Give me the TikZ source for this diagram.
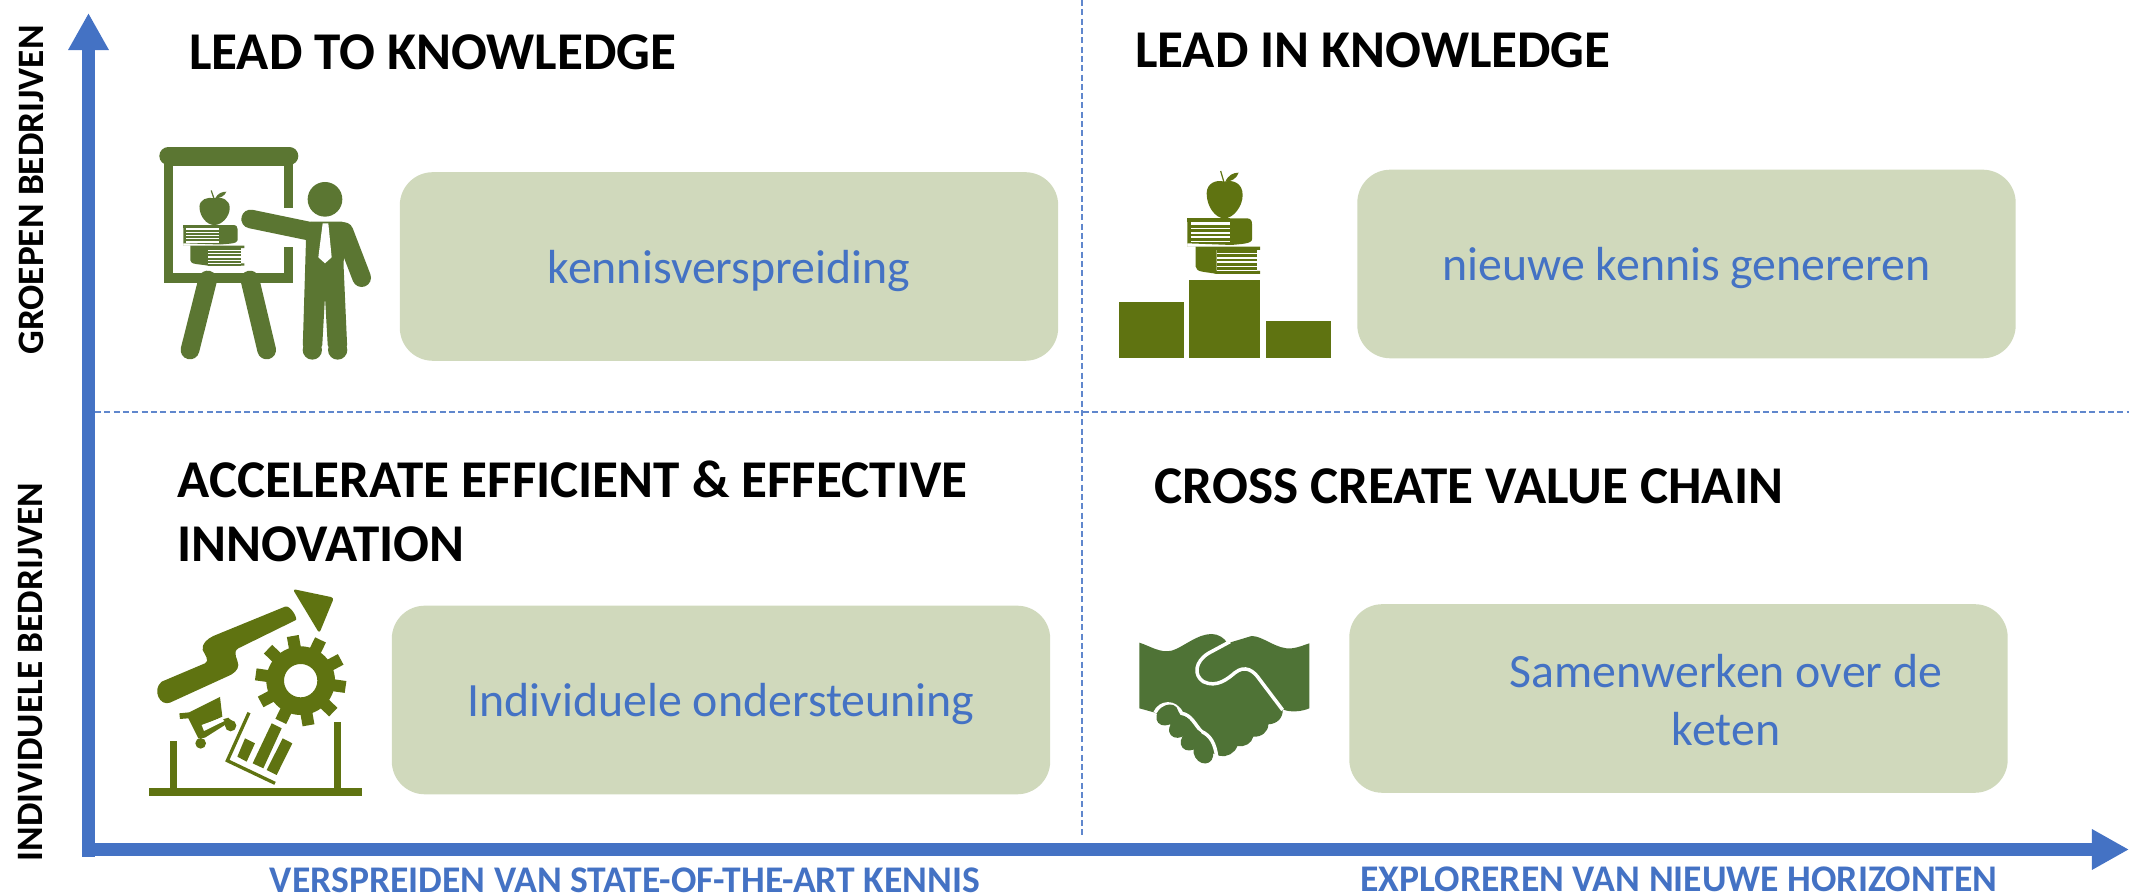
\documentclass[tikz,border=0pt]{standalone}
\usepackage{fontspec}
\setmainfont{Carlito}
\usetikzlibrary{arrows.meta}
\definecolor{axisblue}{HTML}{4472C4}
\definecolor{boxgreen}{HTML}{D0D9BC}
\definecolor{iconolive}{HTML}{5F7311}
\definecolor{iconmoss}{HTML}{5B7632}
\definecolor{iconhand}{HTML}{4F7336}
\def\applebooks#1{
	\fill[#1] (373,95) .. controls (400,88) and (428,100) .. (428,135) .. controls (428,170) and (400,205) .. (373,205) .. controls (346,205) and (320,170) .. (320,130) .. controls (320,100) and (348,88) .. (373,95) -- cycle;
	\draw[#1, line width=0.012cm] (362,63) -- (372,97);
	\fill[#1] (376,95) .. controls (385,75) and (400,68) .. (416,68) .. controls (410,85) and (395,95) .. (376,95) -- cycle;
	\fill[#1] (262,205) -- (440,205) .. controls (452,205) and (456,212) .. (456,222) -- (456,268) .. controls (456,282) and (420,282) .. (395,285) -- (262,280) -- (262,290) -- (480,290) -- (480,300) -- (350,300) -- (350,372) -- (480,372) -- (480,363) -- (350,363) -- (350,372) .. controls (320,365) and (287,368) .. (287,350) -- (287,290) -- (262,290) -- (262,280) -- (262,205) -- cycle;
	\fill[#1] (262,205) rectangle (390,217);
	\fill[#1] (270,217) rectangle (392,280);
	\fill[white] (272,217) rectangle (390,224);
	\foreach \yy in {233,246,259,272} \fill[white] (272,\yy) rectangle (390,\yy+5);
	\fill[#1] (350,300) rectangle (470,372);
	\foreach \yy in {308,321,334,347,359} \fill[white] (352,\yy) rectangle (470,\yy+5);
}
\tikzset{
	quadbox/.style={fill=boxgreen, rounded corners=0.33cm, minimum width=6.58cm, minimum height=1.885cm, inner sep=0pt},
	quadtext/.style={text=axisblue, font=\fontsize{13.6}{16.3}\selectfont, align=center},
	quadtitle/.style={anchor=west, text=black, font=\fontsize{15.1}{18.2}\bfseries\selectfont, align=left, inner sep=0pt},
	axisx/.style={text=axisblue, font=\fontsize{10.7}{12}\bfseries\selectfont, inner sep=0pt},
	axisy/.style={text=black, rotate=90, font=\fontsize{10.6}{12}\bfseries\selectfont, inner sep=0pt},
	axisline/.style={axisblue, line width=0.13cm, -{Triangle[length=0.37cm, width=0.38cm]}},
	gridline/.style={axisblue!85, line width=0.4pt, dash pattern=on 1.7pt off 0.95pt}
}
\begin{document}
\begin{tikzpicture}[x=0.01cm, y=-0.01cm]
	%%%%% START %%%%%
	\useasboundingbox (0, 0) rectangle (2129, 895);
	
	\coordinate (ybottom) at (88.5, 857);
	\coordinate (ytop) at (88.5, 13);
	\coordinate (xleft) at (82, 849.5);
	\coordinate (xright) at (2129, 849.5);
	\coordinate (midleft) at (95, 412);
	\coordinate (midright) at (2129, 412);
	\coordinate (midtop) at (1082, 0);
	\coordinate (midbottom) at (1082, 837);
	
	\draw[gridline] (midleft) -- (midright);
	\draw[gridline] (midtop) -- (midbottom);
	\draw[axisline] (ybottom) -- (ytop);
	\draw[axisline] (xleft) -- (xright);
	
	\node[quadbox] (spreadbox) at (729, 266.5) {};
	\node[quadbox] (newbox) at (1686.5, 264) {};
	\node[quadbox] (ownbox) at (721, 700) {};
	\node[quadbox] (chainbox) at (1678.5, 698.5) {};
	
	\node[quadtext] (spreadtext) at (729, 271) {kennisverspreiding};
	\node[quadtext] (newtext) at (1686.5, 268) {nieuwe kennis genereren};
	\node[quadtext] (owntext) at (721, 704) {Individuele ondersteuning};
	\node[quadtext] (chaintext) at (1726, 700) {Samenwerken over de\\keten};
	
	\node[quadtitle] (leadto) at (188.5, 52) {LEAD TO KNOWLEDGE};
	\node[quadtitle] (leadin) at (1134.5, 50) {LEAD IN KNOWLEDGE};
	\node[quadtitle] (accel) at (177, 511) {ACCELERATE EFFICIENT \& EFFECTIVE\\INNOVATION};
	\node[quadtitle] (cross) at (1154, 486) {CROSS CREATE VALUE CHAIN};
	
	\node[axisx] (xlabelleft) at (625, 880) {VERSPREIDEN VAN STATE-OF-THE-ART KENNIS};
	\node[axisx] (xlabelright) at (1679, 879) {EXPLOREREN VAN NIEUWE HORIZONTEN};
	\node[axisy] (ylabeltop) at (31, 190) {GROEPEN BEDRIJVEN};
	\node[axisy] (ylabelbottom) at (31, 672) {INDIVIDUELE BEDRIJVEN};
	
	% teacher at the board
	\begin{scope}[shift={(130, 120)}, scale=1/3]
		\fill[iconmoss] (103, 110) rectangle (490, 488);
		\fill[white] (130, 138) rectangle (463, 458);
		\fill[white] (460, 265) rectangle (495, 380);
		\draw[iconmoss, line width=0.18cm, line cap=round] (115, 108) -- (478, 108);
		\draw[iconmoss, line width=0.187cm, line cap=round] (233, 480) -- (180, 690);
		\draw[iconmoss, line width=0.187cm, line cap=round] (360, 480) -- (410, 690);
		\begin{scope}[shift={(253, 275)}, xscale=0.84, yscale=0.73, shift={(-373, -150)}]
			\applebooks{iconmoss}
		\end{scope}
		\fill[iconmoss] (585, 238) circle (52);
		\draw[iconmoss, line width=0.187cm, line cap=round] (362, 297) -- (555, 337);
		\fill[iconmoss, rounded corners=0.05cm] (528, 305) -- (650, 305) -- (665, 330) -- (640, 420) -- (652, 690) -- (594, 690) -- (585, 530) -- (576, 690) -- (518, 690) -- (528, 360) -- cycle;
		\draw[iconmoss, line width=0.187cm, line cap=round] (642, 335) -- (695, 473);
		\fill[iconmoss] (547, 690) circle (29);
		\fill[iconmoss] (623, 690) circle (29);
		\fill[white] (578, 310) -- (595, 310) -- (605, 412) -- (585, 430) -- (565, 412) -- cycle;
	\end{scope}
	
	% podium with apple and books
	\begin{scope}[shift={(1100, 150)}, scale=1/3]
		\fill[iconolive] (57, 457) rectangle (253, 624);
		\fill[iconolive] (268, 391) rectangle (481, 624);
		\fill[iconolive] (497, 514) rectangle (693, 624);
		\applebooks{iconolive}
	\end{scope}
	
	% arrow, gear, cart and chart
	\begin{scope}[shift={(130, 575)}, scale=1/3]
		\fill[iconolive] (57, 640) rectangle (695, 662);
		\fill[iconolive] (121, 498) rectangle (141, 640);
		\fill[iconolive] (611, 442) rectangle (633, 640);
		\fill[iconolive] (95, 320) -- (225, 265) .. controls (240, 258) and (225, 240) .. (218, 225) .. controls (215, 205) and (232, 192) .. (250, 183) -- (465, 95) .. controls (480, 90) and (502, 125) .. (498, 135) -- (325, 220) .. controls (305, 232) and (325, 255) .. (325, 270) .. controls (325, 285) and (310, 297) .. (295, 303) -- (120, 383) .. controls (90, 395) and (65, 345) .. (95, 320) -- cycle;
		\fill[iconolive, rounded corners=0.03cm] (488, 42) -- (612, 68) -- (568, 175) -- cycle;
		\fill[iconolive, even odd rule] (512, 317) circle (103) (512, 317) circle (50);
		\foreach \ang in {10, 46, 82, 118, 154, 190, 226, 262, 298, 334} {
			\fill[iconolive, shift={(512, 317)}, rotate=\ang] (-18, 95) rectangle (18, 136);
		}
		\fill[iconolive] (148, 415) -- (178, 412) -- (270, 366) -- (277, 425) -- (212, 455) -- (295, 428) -- (318, 450) -- (300, 468) -- (285, 450) -- (225, 488) -- (205, 490) -- (175, 430) -- (150, 432) -- cycle;
		\fill[white] (215, 450) -- (275, 428) -- (283, 438) -- (222, 468) -- cycle;
		\fill[iconolive] (212, 505) circle (16);
		\fill[iconolive] (302, 452) circle (17);
		\draw[iconolive, line width=0.033cm] (357, 413) -- (292, 557) -- (435, 625);
		\fill[iconolive] (345, 490) -- (375, 505) -- (350, 560) -- (322, 545) -- cycle;
		\fill[iconolive] (425, 445) -- (455, 460) -- (400, 580) -- (368, 565) -- cycle;
		\fill[iconolive] (458, 490) -- (487, 505) -- (440, 600) -- (410, 585) -- cycle;
	\end{scope}
	
	% handshake
	\begin{scope}[shift={(1120, 610)}, scale=1/3]
		\fill[iconhand] (58, 98) .. controls (90, 108) and (120, 130) .. (155, 122) .. controls (190, 112) and (230, 72) .. (275, 72) .. controls (295, 72) and (315, 85) .. (322, 100) -- (395, 78) .. controls (430, 78) and (470, 120) .. (515, 115) .. controls (535, 113) and (552, 105) .. (568, 100) -- (568, 295) .. controls (545, 305) and (510, 308) .. (488, 298) .. controls (490, 325) and (470, 342) .. (445, 343) .. controls (445, 365) and (425, 382) .. (400, 380) .. controls (395, 400) and (375, 412) .. (352, 408) .. controls (345, 430) and (320, 442) .. (300, 438) -- (250, 420) -- (120, 320) -- (105, 308) -- (58, 295) -- cycle;
		\draw[white, line width=0.035cm] (330, 95) -- (265, 130) .. controls (225, 155) and (220, 195) .. (250, 215) .. controls (290, 235) and (325, 205) .. (345, 188) .. controls (375, 165) and (400, 180) .. (420, 210) -- (488, 300);
		\draw[white, line width=0.035cm] (105, 308) .. controls (120, 275) and (165, 270) .. (185, 310) .. controls (215, 315) and (225, 345) .. (245, 365) .. controls (270, 375) and (285, 400) .. (290, 440);
		\fill[iconhand, rotate around={40:(142, 315)}] (142, 315) ellipse (36 and 28);
		\fill[iconhand, rotate around={40:(180, 352)}] (180, 352) ellipse (36 and 28);
		\fill[iconhand, rotate around={40:(215, 390)}] (215, 390) ellipse (36 and 28);
		\fill[iconhand, rotate around={-60:(250, 428)}] (250, 428) ellipse (34 and 28);
	\end{scope}
	%%%%% END %%%%%
\end{tikzpicture}
\end{document}
